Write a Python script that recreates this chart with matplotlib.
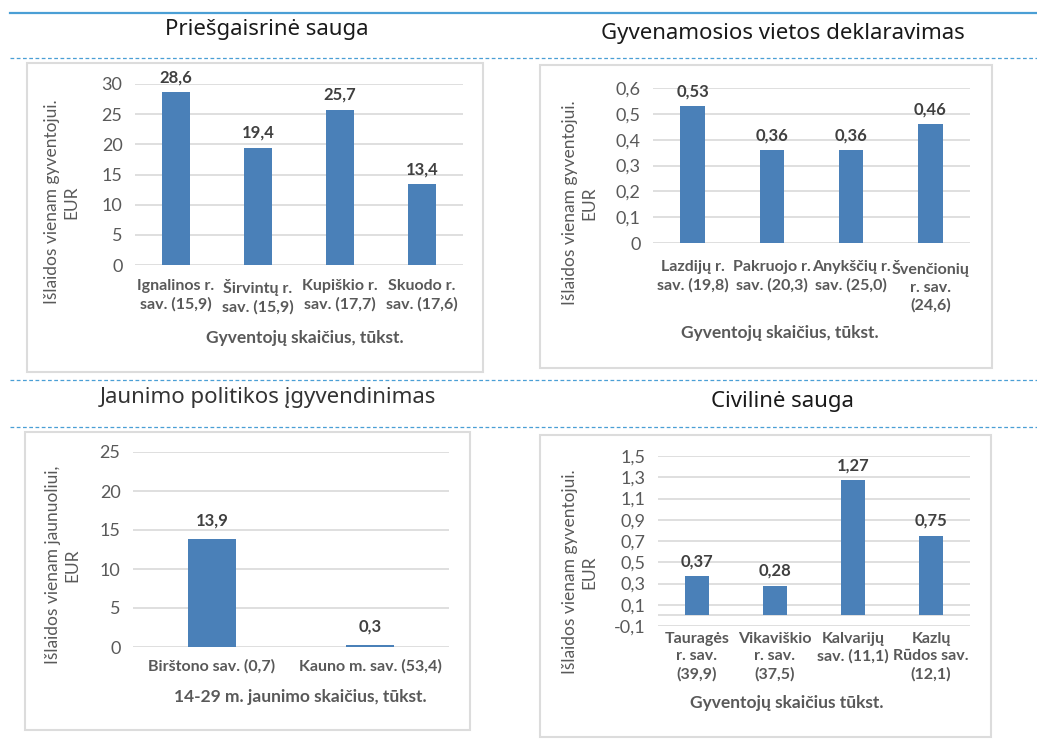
import matplotlib
matplotlib.use("Agg")
import matplotlib.pyplot as plt
from matplotlib.patches import Rectangle
from matplotlib.lines import Line2D

W, H = 1037, 740

# ---------------- data ----------------
fire_titles = "Priešgaisrinė sauga"
fire_cats = ["Ignalinos r.\nsav. (15,9)", "Širvintų r.\nsav. (15,9)",
             "Kupiškio r.\nsav. (17,7)", "Skuodo r.\nsav. (17,6)"]
fire_vals = [28.6, 19.4, 25.7, 13.4]
fire_yticks = [0, 5, 10, 15, 20, 25, 30]

decl_title = "Gyvenamosios vietos deklaravimas"
decl_cats = ["Lazdijų r.\nsav. (19,8)", "Pakruojo r.\nsav. (20,3)",
             "Anykščių r.\nsav. (25,0)", "Švenčionių\nr. sav.\n(24,6)"]
decl_vals = [0.53, 0.36, 0.36, 0.46]
decl_yticks = [0, 0.1, 0.2, 0.3, 0.4, 0.5, 0.6]

youth_title = "Jaunimo politikos įgyvendinimas"
youth_cats = ["Birštono sav. (0,7)", "Kauno m. sav. (53,4)"]
youth_vals = [13.9, 0.3]
youth_yticks = [0, 5, 10, 15, 20, 25]

civil_title = "Civilinė sauga"
civil_cats = ["Tauragės\nr. sav.\n(39,9)", "Vikaviškio\nr. sav.\n(37,5)",
              "Kalvarijų\nsav. (11,1)", "Kazlų\nRūdos sav.\n(12,1)"]
civil_vals = [0.37, 0.28, 1.27, 0.75]
civil_yticks = [-0.1, 0.1, 0.3, 0.5, 0.7, 0.9, 1.1, 1.3, 1.5]

# ---------------- style ----------------
BAR = "#4a80b8"
GRID = "#d9d9d9"
TXT = "#595959"
LAB = "#404040"
LINE = "#4a9fd5"
FONT = ["Lato", "DejaVu Sans"]
TFONT = ["Noto Sans", "DejaVu Sans"]
plt.rcParams["font.family"] = FONT

fig = plt.figure(figsize=(W / 100, H / 100), dpi=100)
fig.patch.set_facecolor("white")


def fx(x):
    return x / W


def fy(y):
    return 1 - y / H


def hline(x0, x1, y, dashed=False, lw=1.0):
    ln = Line2D([fx(x0), fx(x1)], [fy(y), fy(y)], transform=fig.transFigure,
                color=LINE, lw=lw, linestyle=(0, (3, 2)) if dashed else "-")
    fig.add_artist(ln)


def box(x0, y0, x1, y1):
    r = Rectangle((fx(x0), fy(y1)), fx(x1) - fx(x0), fy(y0) - fy(y1),
                  transform=fig.transFigure, facecolor="none",
                  edgecolor="#dcdcdc", lw=1.5)
    fig.add_artist(r)


def fmt(v, d):
    if v == 0:
        return "0"
    return f"{v:.{d}f}".replace(".", ",")


def panel(rect, cats, vals, yticks, ylim, dec, tick_dec, bw, pad, labelpad,
          axis0=False):
    x0, y0, x1, y1 = rect
    ax = fig.add_axes([fx(x0), fy(y1), fx(x1) - fx(x0), fy(y0) - fy(y1)])
    pos = list(range(len(cats)))
    bars = ax.bar(pos, vals, width=bw, color=BAR, zorder=3)
    ax.set_xlim(-0.5, len(cats) - 0.5)
    ax.set_ylim(*ylim)
    ax.set_yticks(yticks)
    ax.set_yticklabels([fmt(t, tick_dec) if tick_dec else f"{t:g}" for t in yticks],
                       color=TXT, fontsize=13)
    ax.set_xticks(pos)
    ax.set_xticklabels(cats, color=TXT, fontsize=11.5, fontweight="bold",
                       linespacing=1.35, va="top")
    ax.tick_params(axis="both", length=0)
    ax.tick_params(axis="x", pad=labelpad)
    ax.tick_params(axis="y", pad=9)
    ax.grid(axis="y", color=GRID, lw=1.2, zorder=0)
    for s in ax.spines.values():
        s.set_visible(False)
    if axis0:
        ax.axhline(0, color=GRID, lw=1.2, zorder=1)
    for b, v in zip(bars, vals):
        ax.annotate(fmt(v, dec), (b.get_x() + b.get_width() / 2, v),
                    xytext=(0, pad), textcoords="offset points",
                    ha="center", va="bottom", fontsize=12, fontweight="bold",
                    color=LAB, zorder=4)
    return ax


# --------- decorative lines ---------
hline(10, 1037, 13, lw=1.6)
hline(10, 1037, 58, dashed=True, lw=0.9)
hline(10, 1037, 380, dashed=True, lw=0.9)
hline(10, 1037, 427, dashed=True, lw=0.9)

# --------- titles ---------
fig.text(fx(267), fy(30), fire_titles, ha="center", va="center", fontsize=16,
         family=TFONT, color="#1a1a1a")
fig.text(fx(783), fy(33), decl_title, ha="center", va="center", fontsize=16,
         family=TFONT, color="#1a1a1a")
fig.text(fx(268), fy(398), youth_title, ha="center", va="center", fontsize=16,
         family=TFONT, color="#333333", fontweight="light")
fig.text(fx(782), fy(402), civil_title, ha="center", va="center", fontsize=16,
         family=TFONT, color="#1a1a1a")

# --------- boxes ---------
box(27, 63, 483, 372)
box(540, 65, 992, 368)
box(25, 432, 470, 730)
box(540, 435, 991, 737)

# --------- panels ---------
panel((135, 84, 463, 265), fire_cats, fire_vals, fire_yticks, (0, 30), 1, 0,
      0.33, 5, 10)
panel((653, 88, 970, 243), decl_cats, decl_vals, decl_yticks, (0, 0.6), 2, 1,
      0.31, 5, 12)
panel((133, 452, 449, 647), youth_cats, youth_vals, youth_yticks, (0, 25), 1, 0,
      0.3, 7, 9)
panel((658, 456, 970, 626), civil_cats, civil_vals, civil_yticks, (-0.1, 1.5), 2, 1,
      0.31, 5, 4, axis0=True)

# --------- axis titles ---------
fig.text(fx(305), fy(338), "Gyventojų skaičius, tūkst.", ha="center", va="center",
         fontsize=12.5, fontweight="bold", color=TXT)
fig.text(fx(780), fy(333), "Gyventojų skaičius, tūkst.", ha="center", va="center",
         fontsize=12.5, fontweight="bold", color=TXT)
fig.text(fx(300), fy(697), "14-29 m. jaunimo skaičius, tūkst.", ha="center",
         va="center", fontsize=12.5, fontweight="bold", color=TXT)
fig.text(fx(787), fy(703), "Gyventojų skaičius tūkst.", ha="center", va="center",
         fontsize=12.5, fontweight="bold", color=TXT)

fig.text(fx(62), fy(202), "Išlaidos vienam gyventojui.\nEUR", rotation=90,
         ha="center", va="center", fontsize=12.5, color=TXT, multialignment="center",
         linespacing=1.25)
fig.text(fx(580), fy(203), "Išlaidos vienam gyventojui.\nEUR", rotation=90,
         ha="center", va="center", fontsize=12.5, color=TXT, multialignment="center",
         linespacing=1.25)
fig.text(fx(63), fy(565), "Išlaidos vienam jaunuoliui,\nEUR", rotation=90,
         ha="center", va="center", fontsize=12.5, color=TXT, multialignment="center",
         linespacing=1.25)
fig.text(fx(580), fy(572), "Išlaidos vienam gyventojui.\nEUR", rotation=90,
         ha="center", va="center", fontsize=12.5, color=TXT, multialignment="center",
         linespacing=1.25)

fig.savefig("out.png", dpi=100, facecolor="white")
